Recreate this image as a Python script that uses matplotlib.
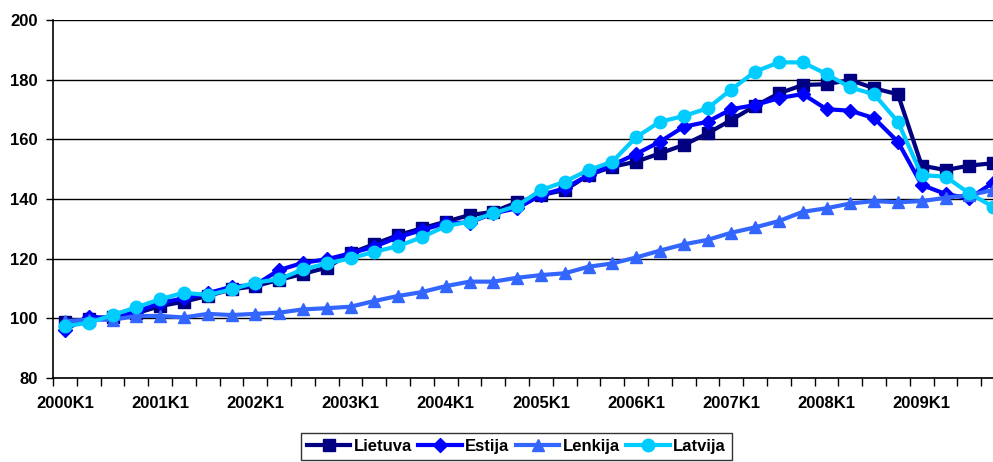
import numpy as np
import matplotlib.pyplot as plt
from matplotlib.ticker import FixedLocator

plt.rcParams['font.family'] = ['Liberation Sans', 'DejaVu Sans']
plt.rcParams['font.weight'] = 'bold'

# quarters 2000K1 .. 2009K4
years = list(range(2000, 2010))
quarters = [f'{y}K{q}' for y in years for q in range(1, 5)]

lietuva = [98.9, 99.7, 100.6, 101.7, 104.1, 105.6, 107.5, 109.7, 110.8, 112.9,
           114.9, 117.0, 121.8, 124.9, 127.9, 130.2, 132.4, 134.6, 135.7, 138.9,
           141.3, 143.0, 148.0, 150.8, 152.5, 155.3, 158.1, 162.0, 166.5, 171.2,
           175.4, 178.2, 178.5, 179.9, 177.1, 175.1, 151.2, 149.7, 151.2, 152.0]
estija = [96.1, 100.6, 100.0, 102.2, 105.2, 106.7, 108.4, 110.6, 111.2, 116.2,
          118.6, 119.8, 121.8, 124.0, 127.2, 129.6, 131.9, 132.1, 135.2, 136.9,
          141.3, 143.6, 148.0, 151.4, 155.1, 159.2, 164.2, 165.9, 170.1, 171.5,
          173.8, 175.2, 170.1, 169.6, 167.1, 159.2, 144.7, 141.7, 140.2, 145.5]
lenkija = [99.0, 99.6, 99.5, 100.8, 100.8, 100.3, 101.5, 101.1, 101.5, 101.9,
           103.0, 103.4, 103.9, 105.8, 107.5, 108.8, 110.8, 112.3, 112.3, 113.6,
           114.5, 115.1, 117.3, 118.4, 120.4, 122.7, 124.8, 126.3, 128.7, 130.5,
           132.6, 135.7, 136.9, 138.5, 139.3, 138.9, 139.3, 140.4, 141.3, 143.0]
latvija = [97.4, 98.5, 101.1, 103.7, 106.4, 108.6, 107.8, 109.7, 112.0, 113.1,
           116.4, 118.4, 120.1, 122.3, 124.2, 127.2, 130.9, 132.4, 135.2, 137.7,
           143.0, 145.8, 149.7, 152.5, 160.7, 165.9, 167.8, 170.4, 176.7, 182.7,
           185.8, 185.8, 181.9, 177.4, 175.1, 165.9, 148.0, 147.5, 141.9, 137.4]

series = [
    ('Lietuva', lietuva, '#000080', 's', 8),
    ('Estija', estija, '#0000FF', 'D', 7),
    ('Lenkija', lenkija, '#3366FF', '^', 9),
    ('Latvija', latvija, '#00CCFF', 'o', 9),
]

fig = plt.figure(figsize=(9.93, 4.62), dpi=100)
# plot area runs past the right edge of the picture, like the original
ax = fig.add_axes([0.0534, 0.1818, 0.9587, 0.7749])

x = np.arange(len(quarters))
for name, vals, col, mk, ms in series:
    ax.plot(x, vals, color=col, linewidth=3, marker=mk, markersize=ms,
            markerfacecolor=col, markeredgecolor=col, label=name, clip_on=False)

ax.set_xlim(-0.5, len(quarters) - 0.5)
ax.set_ylim(80, 200)
ax.set_yticks(range(80, 201, 20))
ax.yaxis.grid(True, color='black', linewidth=1)
ax.set_axisbelow(True)

ax.set_xticks(x[::4])
ax.set_xticklabels(quarters[::4])
ax.xaxis.set_minor_locator(FixedLocator(np.arange(-0.5, len(quarters), 1)))
ax.tick_params(axis='x', which='major', length=0, pad=13, labelsize=12)
ax.tick_params(axis='x', which='minor', length=6, width=1, color='black')
ax.tick_params(axis='y', length=5, width=1, pad=6, labelsize=12)

for side in ('top', 'right'):
    ax.spines[side].set_visible(False)
ax.spines['left'].set_linewidth(1.2)
ax.spines['bottom'].set_linewidth(1.2)

leg = fig.legend(loc='upper center', bbox_to_anchor=(0.52, 0.0628), ncol=4,
                 frameon=True, fancybox=False, edgecolor='black',
                 fontsize=12, handlelength=2.6, columnspacing=0.4,
                 handletextpad=0.2, borderpad=0.35, borderaxespad=0)
leg.get_frame().set_linewidth(1)

fig.savefig('out.png', dpi=100)
